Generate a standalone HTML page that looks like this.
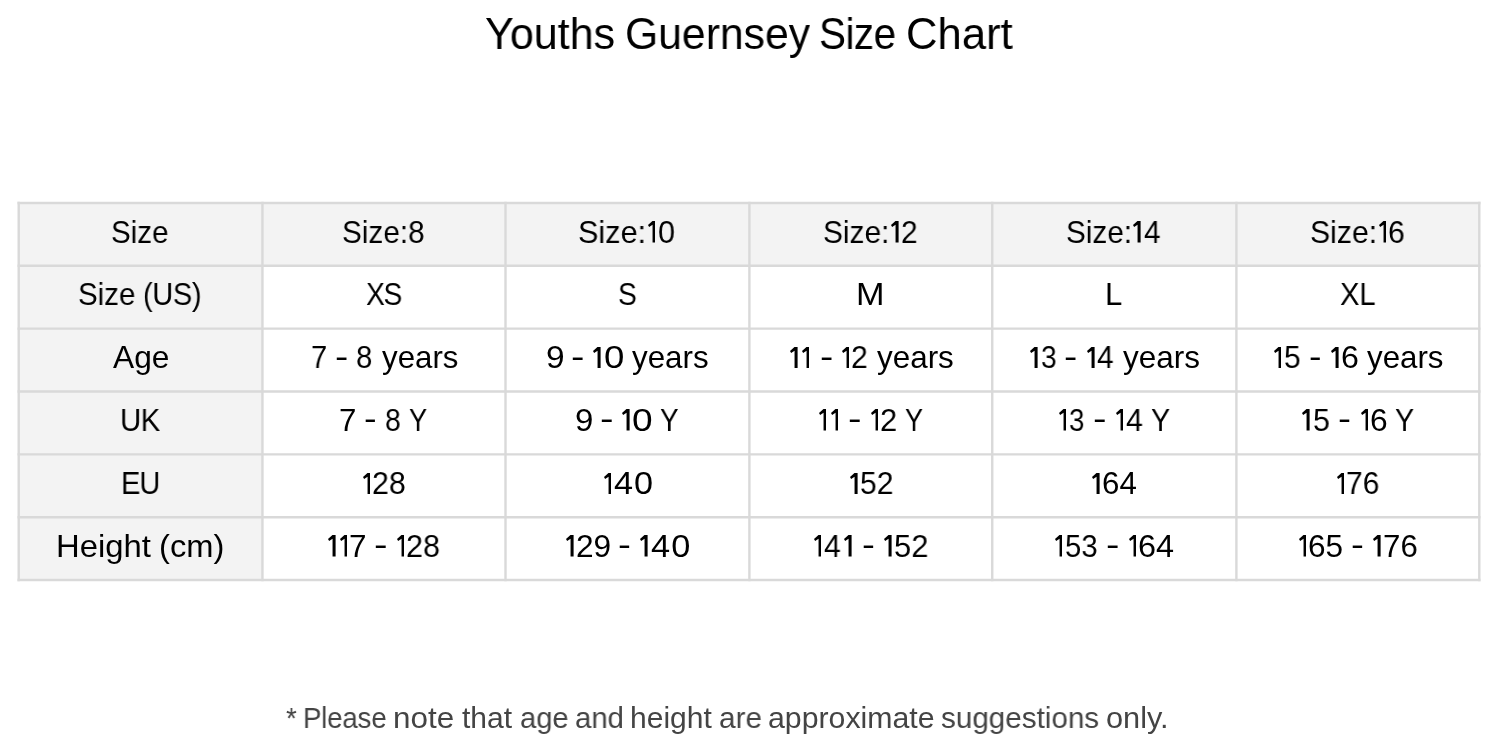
<!DOCTYPE html>
<html><head><meta charset="utf-8"><title>Youths Guernsey Size Chart</title>
<style>
html,body{margin:0;padding:0;background:#fff;width:1498px;height:752px;overflow:hidden}
body{position:relative;font-family:"Liberation Sans", sans-serif}
svg{position:absolute;left:0;top:0}
.one{position:absolute}
.one span{color:transparent;font-size:20px;line-height:1;position:absolute;left:0;top:0}
.t{position:absolute;line-height:1;white-space:pre;transform-origin:0 0;will-change:transform;-webkit-font-smoothing:antialiased}
</style></head><body>
<svg width="1498" height="752" viewBox="0 0 1498 752">
<rect x="18.7" y="203.0" width="1460.6" height="62.80000000000001" fill="#f3f3f3"/>
<rect x="18.7" y="203.0" width="243.75" height="377.0" fill="#f3f3f3"/>
<line x1="18.7" y1="201.8" x2="18.7" y2="581.2" stroke="#d9d9d9" stroke-width="2.4"/>
<line x1="262.45" y1="201.8" x2="262.45" y2="581.2" stroke="#d9d9d9" stroke-width="2.4"/>
<line x1="505.5" y1="201.8" x2="505.5" y2="581.2" stroke="#d9d9d9" stroke-width="2.4"/>
<line x1="749.4" y1="201.8" x2="749.4" y2="581.2" stroke="#d9d9d9" stroke-width="2.4"/>
<line x1="992.25" y1="201.8" x2="992.25" y2="581.2" stroke="#d9d9d9" stroke-width="2.4"/>
<line x1="1236.4" y1="201.8" x2="1236.4" y2="581.2" stroke="#d9d9d9" stroke-width="2.4"/>
<line x1="1479.3" y1="201.8" x2="1479.3" y2="581.2" stroke="#d9d9d9" stroke-width="2.4"/>
<line x1="17.5" y1="203.0" x2="1480.5" y2="203.0" stroke="#d9d9d9" stroke-width="2.4"/>
<line x1="17.5" y1="265.8" x2="1480.5" y2="265.8" stroke="#d9d9d9" stroke-width="2.4"/>
<line x1="17.5" y1="328.6" x2="1480.5" y2="328.6" stroke="#d9d9d9" stroke-width="2.4"/>
<line x1="17.5" y1="391.45" x2="1480.5" y2="391.45" stroke="#d9d9d9" stroke-width="2.4"/>
<line x1="17.5" y1="454.35" x2="1480.5" y2="454.35" stroke="#d9d9d9" stroke-width="2.4"/>
<line x1="17.5" y1="517.2" x2="1480.5" y2="517.2" stroke="#d9d9d9" stroke-width="2.4"/>
<line x1="17.5" y1="580.0" x2="1480.5" y2="580.0" stroke="#d9d9d9" stroke-width="2.4"/>
</svg>
<div class="t" style="left:111.31px;top:216.50px;font-size:31.25px;color:#000;transform:scaleX(0.9448);letter-spacing:0.0px">Size</div>
<div class="t" style="left:342.20px;top:216.50px;font-size:31.25px;color:#000;transform:scaleX(0.9512);letter-spacing:0.0px">Size:8</div>
<div class="t" style="left:578.44px;top:216.50px;font-size:31.25px;color:#000;transform:scaleX(0.9800);letter-spacing:0.0px">Size:</div>
<div class="one" style="left:647.90px;top:221.00px;width:7.60px;height:21.50px"><svg width="100%" height="100%" viewBox="0 0 8 21.5" preserveAspectRatio="none" style="position:absolute;left:0;top:0"><polygon points="0,4.1 4.7,0 8,0 8,21.5 4.8,21.5 4.8,3.7 1.2,6.1" fill="#000"/></svg><span>1</span></div>
<div class="t" style="left:658.32px;top:216.50px;font-size:31.25px;color:#000;transform:scaleX(0.9800);letter-spacing:0.0px">0</div>
<div class="t" style="left:823.19px;top:216.50px;font-size:31.25px;color:#000;transform:scaleX(0.9557);letter-spacing:0.0px">Size:</div>
<div class="one" style="left:891.02px;top:221.00px;width:7.60px;height:21.50px"><svg width="100%" height="100%" viewBox="0 0 8 21.5" preserveAspectRatio="none" style="position:absolute;left:0;top:0"><polygon points="0,4.1 4.7,0 8,0 8,21.5 4.8,21.5 4.8,3.7 1.2,6.1" fill="#000"/></svg><span>1</span></div>
<div class="t" style="left:900.51px;top:216.50px;font-size:31.25px;color:#000;transform:scaleX(0.9557);letter-spacing:0.0px">2</div>
<div class="t" style="left:1065.90px;top:216.50px;font-size:31.25px;color:#000;transform:scaleX(0.9506);letter-spacing:0.0px">Size:</div>
<div class="one" style="left:1133.39px;top:221.00px;width:7.60px;height:21.50px"><svg width="100%" height="100%" viewBox="0 0 8 21.5" preserveAspectRatio="none" style="position:absolute;left:0;top:0"><polygon points="0,4.1 4.7,0 8,0 8,21.5 4.8,21.5 4.8,3.7 1.2,6.1" fill="#000"/></svg><span>1</span></div>
<div class="t" style="left:1143.84px;top:216.50px;font-size:31.25px;color:#000;transform:scaleX(0.9506);letter-spacing:0.0px">4</div>
<div class="t" style="left:1310.17px;top:216.50px;font-size:31.25px;color:#000;transform:scaleX(0.9658);letter-spacing:0.0px">Size:</div>
<div class="one" style="left:1378.68px;top:221.00px;width:7.60px;height:21.50px"><svg width="100%" height="100%" viewBox="0 0 8 21.5" preserveAspectRatio="none" style="position:absolute;left:0;top:0"><polygon points="0,4.1 4.7,0 8,0 8,21.5 4.8,21.5 4.8,3.7 1.2,6.1" fill="#000"/></svg><span>1</span></div>
<div class="t" style="left:1388.15px;top:216.50px;font-size:31.25px;color:#000;transform:scaleX(0.9658);letter-spacing:0.0px">6</div>
<div class="t" style="left:365.79px;top:279.40px;font-size:31.25px;color:#000;transform:scaleX(0.9053);letter-spacing:-1.5px">XS</div>
<div class="t" style="left:618.09px;top:279.40px;font-size:31.25px;color:#000;transform:scaleX(0.9059);letter-spacing:0.0px">S</div>
<div class="t" style="left:856.21px;top:279.40px;font-size:31.25px;color:#000;transform:scaleX(1.0952);letter-spacing:0.0px">M</div>
<div class="t" style="left:1104.92px;top:279.40px;font-size:31.25px;color:#000;transform:scaleX(0.9923);letter-spacing:0.0px">L</div>
<div class="t" style="left:1340.47px;top:279.40px;font-size:31.25px;color:#000;transform:scaleX(0.9333);letter-spacing:0.0px">XL</div>
<div class="t" style="left:113.20px;top:342.40px;font-size:31.25px;color:#000;transform:scaleX(1.0148);letter-spacing:0.0px">Age</div>
<div class="t" style="left:119.72px;top:404.80px;font-size:31.25px;color:#000;transform:scaleX(0.9400);letter-spacing:-0.57px">UK</div>
<div class="t" style="left:120.61px;top:468.00px;font-size:31.25px;color:#000;transform:scaleX(0.9297);letter-spacing:-1.01px">EU</div>
<div class="one" style="left:362.80px;top:472.50px;width:7.60px;height:21.50px"><svg width="100%" height="100%" viewBox="0 0 8 21.5" preserveAspectRatio="none" style="position:absolute;left:0;top:0"><polygon points="0,4.1 4.7,0 8,0 8,21.5 4.8,21.5 4.8,3.7 1.2,6.1" fill="#000"/></svg><span>1</span></div>
<div class="t" style="left:372.26px;top:468.00px;font-size:31.25px;color:#000;transform:scaleX(0.9688);letter-spacing:0.0px">28</div>
<div class="one" style="left:603.80px;top:472.50px;width:7.60px;height:21.50px"><svg width="100%" height="100%" viewBox="0 0 8 21.5" preserveAspectRatio="none" style="position:absolute;left:0;top:0"><polygon points="0,4.1 4.7,0 8,0 8,21.5 4.8,21.5 4.8,3.7 1.2,6.1" fill="#000"/></svg><span>1</span></div>
<div class="t" style="left:614.10px;top:468.00px;font-size:31.25px;color:#000;transform:scaleX(1.0970);letter-spacing:0.83px">40</div>
<div class="one" style="left:850.00px;top:472.50px;width:7.60px;height:21.50px"><svg width="100%" height="100%" viewBox="0 0 8 21.5" preserveAspectRatio="none" style="position:absolute;left:0;top:0"><polygon points="0,4.1 4.7,0 8,0 8,21.5 4.8,21.5 4.8,3.7 1.2,6.1" fill="#000"/></svg><span>1</span></div>
<div class="t" style="left:860.44px;top:468.00px;font-size:31.25px;color:#000;transform:scaleX(0.9594);letter-spacing:0.0px">52</div>
<div class="one" style="left:1092.30px;top:472.50px;width:7.60px;height:21.50px"><svg width="100%" height="100%" viewBox="0 0 8 21.5" preserveAspectRatio="none" style="position:absolute;left:0;top:0"><polygon points="0,4.1 4.7,0 8,0 8,21.5 4.8,21.5 4.8,3.7 1.2,6.1" fill="#000"/></svg><span>1</span></div>
<div class="t" style="left:1101.70px;top:468.00px;font-size:31.25px;color:#000;transform:scaleX(1.0000);letter-spacing:0.0px">64</div>
<div class="one" style="left:1336.70px;top:472.50px;width:7.60px;height:21.50px"><svg width="100%" height="100%" viewBox="0 0 8 21.5" preserveAspectRatio="none" style="position:absolute;left:0;top:0"><polygon points="0,4.1 4.7,0 8,0 8,21.5 4.8,21.5 4.8,3.7 1.2,6.1" fill="#000"/></svg><span>1</span></div>
<div class="t" style="left:1346.19px;top:468.00px;font-size:31.25px;color:#000;transform:scaleX(0.9562);letter-spacing:0.0px">76</div>
<div class="t" style="left:78.31px;top:279.40px;font-size:31.25px;color:#000;transform:scaleX(0.9431);letter-spacing:0.0px">Size</div>
<div class="t" style="left:143.45px;top:279.40px;font-size:31.25px;color:#000;transform:scaleX(0.9271);letter-spacing:-0.39px">(US)</div>
<div class="t" style="left:310.64px;top:342.40px;font-size:31.25px;color:#000;transform:scaleX(0.9286);letter-spacing:0.0px">7</div>
<div class="t" style="left:334.53px;top:340.80px;font-size:31.25px;color:#000;transform:scaleX(1.2750);letter-spacing:0.0px">-</div>
<div class="t" style="left:355.86px;top:342.40px;font-size:31.25px;color:#000;transform:scaleX(0.9400);letter-spacing:0.0px">8</div>
<div class="t" style="left:381.70px;top:342.40px;font-size:31.25px;color:#000;transform:scaleX(0.9987);letter-spacing:0.0px">years</div>
<div class="t" style="left:545.56px;top:342.40px;font-size:31.25px;color:#000;transform:scaleX(1.0714);letter-spacing:0.0px">9</div>
<div class="t" style="left:571.01px;top:340.80px;font-size:31.25px;color:#000;transform:scaleX(1.2875);letter-spacing:0.0px">-</div>
<div class="one" style="left:593.30px;top:346.90px;width:7.60px;height:21.50px"><svg width="100%" height="100%" viewBox="0 0 8 21.5" preserveAspectRatio="none" style="position:absolute;left:0;top:0"><polygon points="0,4.1 4.7,0 8,0 8,21.5 4.8,21.5 4.8,3.7 1.2,6.1" fill="#000"/></svg><span>1</span></div>
<div class="t" style="left:603.53px;top:342.40px;font-size:31.25px;color:#000;transform:scaleX(1.1733);letter-spacing:0.0px">0</div>
<div class="t" style="left:632.20px;top:342.40px;font-size:31.25px;color:#000;transform:scaleX(1.0027);letter-spacing:0.0px">years</div>
<div class="one" style="left:790.10px;top:346.90px;width:7.60px;height:21.50px"><svg width="100%" height="100%" viewBox="0 0 8 21.5" preserveAspectRatio="none" style="position:absolute;left:0;top:0"><polygon points="0,4.1 4.7,0 8,0 8,21.5 4.8,21.5 4.8,3.7 1.2,6.1" fill="#000"/></svg><span>1</span></div>
<div class="one" style="left:801.80px;top:346.90px;width:7.60px;height:21.50px"><svg width="100%" height="100%" viewBox="0 0 8 21.5" preserveAspectRatio="none" style="position:absolute;left:0;top:0"><polygon points="0,4.1 4.7,0 8,0 8,21.5 4.8,21.5 4.8,3.7 1.2,6.1" fill="#000"/></svg><span>1</span></div>
<div class="t" style="left:819.52px;top:340.80px;font-size:31.25px;color:#000;transform:scaleX(1.2750);letter-spacing:0.0px">-</div>
<div class="one" style="left:841.80px;top:346.90px;width:7.60px;height:21.50px"><svg width="100%" height="100%" viewBox="0 0 8 21.5" preserveAspectRatio="none" style="position:absolute;left:0;top:0"><polygon points="0,4.1 4.7,0 8,0 8,21.5 4.8,21.5 4.8,3.7 1.2,6.1" fill="#000"/></svg><span>1</span></div>
<div class="t" style="left:851.27px;top:342.40px;font-size:31.25px;color:#000;transform:scaleX(0.9643);letter-spacing:0.0px">2</div>
<div class="t" style="left:876.70px;top:342.40px;font-size:31.25px;color:#000;transform:scaleX(1.0053);letter-spacing:0.0px">years</div>
<div class="one" style="left:1030.30px;top:346.90px;width:7.60px;height:21.50px"><svg width="100%" height="100%" viewBox="0 0 8 21.5" preserveAspectRatio="none" style="position:absolute;left:0;top:0"><polygon points="0,4.1 4.7,0 8,0 8,21.5 4.8,21.5 4.8,3.7 1.2,6.1" fill="#000"/></svg><span>1</span></div>
<div class="t" style="left:1040.80px;top:342.40px;font-size:31.25px;color:#000;transform:scaleX(0.9000);letter-spacing:0.0px">3</div>
<div class="t" style="left:1064.22px;top:340.80px;font-size:31.25px;color:#000;transform:scaleX(1.2750);letter-spacing:0.0px">-</div>
<div class="one" style="left:1087.00px;top:346.90px;width:7.60px;height:21.50px"><svg width="100%" height="100%" viewBox="0 0 8 21.5" preserveAspectRatio="none" style="position:absolute;left:0;top:0"><polygon points="0,4.1 4.7,0 8,0 8,21.5 4.8,21.5 4.8,3.7 1.2,6.1" fill="#000"/></svg><span>1</span></div>
<div class="t" style="left:1097.44px;top:342.40px;font-size:31.25px;color:#000;transform:scaleX(0.9562);letter-spacing:0.0px">4</div>
<div class="t" style="left:1123.30px;top:342.40px;font-size:31.25px;color:#000;transform:scaleX(1.0067);letter-spacing:0.0px">years</div>
<div class="one" style="left:1273.60px;top:346.90px;width:7.60px;height:21.50px"><svg width="100%" height="100%" viewBox="0 0 8 21.5" preserveAspectRatio="none" style="position:absolute;left:0;top:0"><polygon points="0,4.1 4.7,0 8,0 8,21.5 4.8,21.5 4.8,3.7 1.2,6.1" fill="#000"/></svg><span>1</span></div>
<div class="t" style="left:1284.04px;top:342.40px;font-size:31.25px;color:#000;transform:scaleX(0.9600);letter-spacing:0.0px">5</div>
<div class="t" style="left:1309.10px;top:340.80px;font-size:31.25px;color:#000;transform:scaleX(1.2000);letter-spacing:0.0px">-</div>
<div class="one" style="left:1331.30px;top:346.90px;width:7.60px;height:21.50px"><svg width="100%" height="100%" viewBox="0 0 8 21.5" preserveAspectRatio="none" style="position:absolute;left:0;top:0"><polygon points="0,4.1 4.7,0 8,0 8,21.5 4.8,21.5 4.8,3.7 1.2,6.1" fill="#000"/></svg><span>1</span></div>
<div class="t" style="left:1340.64px;top:342.40px;font-size:31.25px;color:#000;transform:scaleX(1.0286);letter-spacing:0.0px">6</div>
<div class="t" style="left:1367.40px;top:342.40px;font-size:31.25px;color:#000;transform:scaleX(1.0013);letter-spacing:0.0px">years</div>
<div class="t" style="left:339.00px;top:404.80px;font-size:31.25px;color:#000;transform:scaleX(1.0000);letter-spacing:0.0px">7</div>
<div class="t" style="left:363.89px;top:403.20px;font-size:31.25px;color:#000;transform:scaleX(1.2125);letter-spacing:0.0px">-</div>
<div class="t" style="left:385.29px;top:404.80px;font-size:31.25px;color:#000;transform:scaleX(0.9067);letter-spacing:0.0px">8</div>
<div class="t" style="left:409.13px;top:404.80px;font-size:31.25px;color:#000;transform:scaleX(0.8684);letter-spacing:0.0px">Y</div>
<div class="t" style="left:574.69px;top:404.80px;font-size:31.25px;color:#000;transform:scaleX(1.0571);letter-spacing:0.0px">9</div>
<div class="t" style="left:600.00px;top:403.20px;font-size:31.25px;color:#000;transform:scaleX(1.3000);letter-spacing:0.0px">-</div>
<div class="one" style="left:622.10px;top:409.30px;width:7.60px;height:21.50px"><svg width="100%" height="100%" viewBox="0 0 8 21.5" preserveAspectRatio="none" style="position:absolute;left:0;top:0"><polygon points="0,4.1 4.7,0 8,0 8,21.5 4.8,21.5 4.8,3.7 1.2,6.1" fill="#000"/></svg><span>1</span></div>
<div class="t" style="left:632.31px;top:404.80px;font-size:31.25px;color:#000;transform:scaleX(1.1867);letter-spacing:0.0px">0</div>
<div class="t" style="left:660.41px;top:404.80px;font-size:31.25px;color:#000;transform:scaleX(0.8895);letter-spacing:0.0px">Y</div>
<div class="one" style="left:818.80px;top:409.30px;width:7.60px;height:21.50px"><svg width="100%" height="100%" viewBox="0 0 8 21.5" preserveAspectRatio="none" style="position:absolute;left:0;top:0"><polygon points="0,4.1 4.7,0 8,0 8,21.5 4.8,21.5 4.8,3.7 1.2,6.1" fill="#000"/></svg><span>1</span></div>
<div class="one" style="left:830.80px;top:409.30px;width:7.60px;height:21.50px"><svg width="100%" height="100%" viewBox="0 0 8 21.5" preserveAspectRatio="none" style="position:absolute;left:0;top:0"><polygon points="0,4.1 4.7,0 8,0 8,21.5 4.8,21.5 4.8,3.7 1.2,6.1" fill="#000"/></svg><span>1</span></div>
<div class="t" style="left:848.00px;top:403.20px;font-size:31.25px;color:#000;transform:scaleX(1.3000);letter-spacing:0.0px">-</div>
<div class="one" style="left:870.90px;top:409.30px;width:7.60px;height:21.50px"><svg width="100%" height="100%" viewBox="0 0 8 21.5" preserveAspectRatio="none" style="position:absolute;left:0;top:0"><polygon points="0,4.1 4.7,0 8,0 8,21.5 4.8,21.5 4.8,3.7 1.2,6.1" fill="#000"/></svg><span>1</span></div>
<div class="t" style="left:880.33px;top:404.80px;font-size:31.25px;color:#000;transform:scaleX(0.9857);letter-spacing:0.0px">2</div>
<div class="t" style="left:904.94px;top:404.80px;font-size:31.25px;color:#000;transform:scaleX(0.8632);letter-spacing:0.0px">Y</div>
<div class="one" style="left:1058.70px;top:409.30px;width:7.60px;height:21.50px"><svg width="100%" height="100%" viewBox="0 0 8 21.5" preserveAspectRatio="none" style="position:absolute;left:0;top:0"><polygon points="0,4.1 4.7,0 8,0 8,21.5 4.8,21.5 4.8,3.7 1.2,6.1" fill="#000"/></svg><span>1</span></div>
<div class="t" style="left:1069.21px;top:404.80px;font-size:31.25px;color:#000;transform:scaleX(0.8867);letter-spacing:0.0px">3</div>
<div class="t" style="left:1093.00px;top:403.20px;font-size:31.25px;color:#000;transform:scaleX(1.3000);letter-spacing:0.0px">-</div>
<div class="one" style="left:1115.50px;top:409.30px;width:7.60px;height:21.50px"><svg width="100%" height="100%" viewBox="0 0 8 21.5" preserveAspectRatio="none" style="position:absolute;left:0;top:0"><polygon points="0,4.1 4.7,0 8,0 8,21.5 4.8,21.5 4.8,3.7 1.2,6.1" fill="#000"/></svg><span>1</span></div>
<div class="t" style="left:1125.93px;top:404.80px;font-size:31.25px;color:#000;transform:scaleX(0.9688);letter-spacing:0.0px">4</div>
<div class="t" style="left:1151.08px;top:404.80px;font-size:31.25px;color:#000;transform:scaleX(0.9158);letter-spacing:0.0px">Y</div>
<div class="one" style="left:1302.40px;top:409.30px;width:7.60px;height:21.50px"><svg width="100%" height="100%" viewBox="0 0 8 21.5" preserveAspectRatio="none" style="position:absolute;left:0;top:0"><polygon points="0,4.1 4.7,0 8,0 8,21.5 4.8,21.5 4.8,3.7 1.2,6.1" fill="#000"/></svg><span>1</span></div>
<div class="t" style="left:1312.83px;top:404.80px;font-size:31.25px;color:#000;transform:scaleX(0.9733);letter-spacing:0.0px">5</div>
<div class="t" style="left:1338.05px;top:403.20px;font-size:31.25px;color:#000;transform:scaleX(1.2500);letter-spacing:0.0px">-</div>
<div class="one" style="left:1360.50px;top:409.30px;width:7.60px;height:21.50px"><svg width="100%" height="100%" viewBox="0 0 8 21.5" preserveAspectRatio="none" style="position:absolute;left:0;top:0"><polygon points="0,4.1 4.7,0 8,0 8,21.5 4.8,21.5 4.8,3.7 1.2,6.1" fill="#000"/></svg><span>1</span></div>
<div class="t" style="left:1369.87px;top:404.80px;font-size:31.25px;color:#000;transform:scaleX(1.0143);letter-spacing:0.0px">6</div>
<div class="t" style="left:1394.78px;top:404.80px;font-size:31.25px;color:#000;transform:scaleX(0.9158);letter-spacing:0.0px">Y</div>
<div class="t" style="left:56.25px;top:530.90px;font-size:31.25px;color:#000;transform:scaleX(1.0506);letter-spacing:0.0px">Height</div>
<div class="t" style="left:158.61px;top:530.90px;font-size:31.25px;color:#000;transform:scaleX(1.0458);letter-spacing:0.0px">(cm)</div>
<div class="one" style="left:328.20px;top:535.40px;width:7.60px;height:21.50px"><svg width="100%" height="100%" viewBox="0 0 8 21.5" preserveAspectRatio="none" style="position:absolute;left:0;top:0"><polygon points="0,4.1 4.7,0 8,0 8,21.5 4.8,21.5 4.8,3.7 1.2,6.1" fill="#000"/></svg><span>1</span></div>
<div class="one" style="left:339.60px;top:535.40px;width:7.60px;height:21.50px"><svg width="100%" height="100%" viewBox="0 0 8 21.5" preserveAspectRatio="none" style="position:absolute;left:0;top:0"><polygon points="0,4.1 4.7,0 8,0 8,21.5 4.8,21.5 4.8,3.7 1.2,6.1" fill="#000"/></svg><span>1</span></div>
<div class="t" style="left:348.99px;top:530.90px;font-size:31.25px;color:#000;transform:scaleX(1.0071);letter-spacing:0.0px">7</div>
<div class="t" style="left:374.30px;top:529.30px;font-size:31.25px;color:#000;transform:scaleX(1.3000);letter-spacing:0.0px">-</div>
<div class="one" style="left:396.80px;top:535.40px;width:7.60px;height:21.50px"><svg width="100%" height="100%" viewBox="0 0 8 21.5" preserveAspectRatio="none" style="position:absolute;left:0;top:0"><polygon points="0,4.1 4.7,0 8,0 8,21.5 4.8,21.5 4.8,3.7 1.2,6.1" fill="#000"/></svg><span>1</span></div>
<div class="t" style="left:406.25px;top:530.90px;font-size:31.25px;color:#000;transform:scaleX(0.9750);letter-spacing:0.0px">28</div>
<div class="one" style="left:566.30px;top:535.40px;width:7.60px;height:21.50px"><svg width="100%" height="100%" viewBox="0 0 8 21.5" preserveAspectRatio="none" style="position:absolute;left:0;top:0"><polygon points="0,4.1 4.7,0 8,0 8,21.5 4.8,21.5 4.8,3.7 1.2,6.1" fill="#000"/></svg><span>1</span></div>
<div class="t" style="left:575.67px;top:530.90px;font-size:31.25px;color:#000;transform:scaleX(1.0129);letter-spacing:0.0px">29</div>
<div class="t" style="left:618.26px;top:529.30px;font-size:31.25px;color:#000;transform:scaleX(1.2375);letter-spacing:0.0px">-</div>
<div class="one" style="left:640.20px;top:535.40px;width:7.60px;height:21.50px"><svg width="100%" height="100%" viewBox="0 0 8 21.5" preserveAspectRatio="none" style="position:absolute;left:0;top:0"><polygon points="0,4.1 4.7,0 8,0 8,21.5 4.8,21.5 4.8,3.7 1.2,6.1" fill="#000"/></svg><span>1</span></div>
<div class="t" style="left:650.50px;top:530.90px;font-size:31.25px;color:#000;transform:scaleX(1.1000);letter-spacing:0.93px">40</div>
<div class="one" style="left:813.70px;top:535.40px;width:7.60px;height:21.50px"><svg width="100%" height="100%" viewBox="0 0 8 21.5" preserveAspectRatio="none" style="position:absolute;left:0;top:0"><polygon points="0,4.1 4.7,0 8,0 8,21.5 4.8,21.5 4.8,3.7 1.2,6.1" fill="#000"/></svg><span>1</span></div>
<div class="t" style="left:824.14px;top:530.90px;font-size:31.25px;color:#000;transform:scaleX(0.9625);letter-spacing:0.0px">4</div>
<div class="one" style="left:844.30px;top:535.40px;width:7.60px;height:21.50px"><svg width="100%" height="100%" viewBox="0 0 8 21.5" preserveAspectRatio="none" style="position:absolute;left:0;top:0"><polygon points="0,4.1 4.7,0 8,0 8,21.5 4.8,21.5 4.8,3.7 1.2,6.1" fill="#000"/></svg><span>1</span></div>
<div class="t" style="left:861.96px;top:529.30px;font-size:31.25px;color:#000;transform:scaleX(1.2375);letter-spacing:0.0px">-</div>
<div class="one" style="left:884.00px;top:535.40px;width:7.60px;height:21.50px"><svg width="100%" height="100%" viewBox="0 0 8 21.5" preserveAspectRatio="none" style="position:absolute;left:0;top:0"><polygon points="0,4.1 4.7,0 8,0 8,21.5 4.8,21.5 4.8,3.7 1.2,6.1" fill="#000"/></svg><span>1</span></div>
<div class="t" style="left:894.41px;top:530.90px;font-size:31.25px;color:#000;transform:scaleX(0.9875);letter-spacing:0.0px">52</div>
<div class="one" style="left:1054.70px;top:535.40px;width:7.60px;height:21.50px"><svg width="100%" height="100%" viewBox="0 0 8 21.5" preserveAspectRatio="none" style="position:absolute;left:0;top:0"><polygon points="0,4.1 4.7,0 8,0 8,21.5 4.8,21.5 4.8,3.7 1.2,6.1" fill="#000"/></svg><span>1</span></div>
<div class="t" style="left:1065.16px;top:530.90px;font-size:31.25px;color:#000;transform:scaleX(0.9364);letter-spacing:0.0px">53</div>
<div class="t" style="left:1106.11px;top:529.30px;font-size:31.25px;color:#000;transform:scaleX(1.2875);letter-spacing:0.0px">-</div>
<div class="one" style="left:1128.50px;top:535.40px;width:7.60px;height:21.50px"><svg width="100%" height="100%" viewBox="0 0 8 21.5" preserveAspectRatio="none" style="position:absolute;left:0;top:0"><polygon points="0,4.1 4.7,0 8,0 8,21.5 4.8,21.5 4.8,3.7 1.2,6.1" fill="#000"/></svg><span>1</span></div>
<div class="t" style="left:1137.83px;top:530.90px;font-size:31.25px;color:#000;transform:scaleX(1.0375);letter-spacing:0.0px">64</div>
<div class="one" style="left:1298.60px;top:535.40px;width:7.60px;height:21.50px"><svg width="100%" height="100%" viewBox="0 0 8 21.5" preserveAspectRatio="none" style="position:absolute;left:0;top:0"><polygon points="0,4.1 4.7,0 8,0 8,21.5 4.8,21.5 4.8,3.7 1.2,6.1" fill="#000"/></svg><span>1</span></div>
<div class="t" style="left:1307.98px;top:530.90px;font-size:31.25px;color:#000;transform:scaleX(1.0094);letter-spacing:0.0px">65</div>
<div class="t" style="left:1351.36px;top:529.30px;font-size:31.25px;color:#000;transform:scaleX(1.2375);letter-spacing:0.0px">-</div>
<div class="one" style="left:1373.30px;top:535.40px;width:7.60px;height:21.50px"><svg width="100%" height="100%" viewBox="0 0 8 21.5" preserveAspectRatio="none" style="position:absolute;left:0;top:0"><polygon points="0,4.1 4.7,0 8,0 8,21.5 4.8,21.5 4.8,3.7 1.2,6.1" fill="#000"/></svg><span>1</span></div>
<div class="t" style="left:1382.71px;top:530.90px;font-size:31.25px;color:#000;transform:scaleX(0.9969);letter-spacing:0.0px">76</div>
<div class="t" style="left:484.62px;top:11.70px;font-size:43.75px;color:#000;transform:scaleX(0.9846);letter-spacing:0.0px">Youths</div>
<div class="t" style="left:624.75px;top:11.70px;font-size:43.75px;color:#000;transform:scaleX(0.9759);letter-spacing:0.0px">Guernsey</div>
<div class="t" style="left:819.45px;top:11.70px;font-size:43.75px;color:#000;transform:scaleX(0.9225);letter-spacing:-0.55px">Size</div>
<div class="t" style="left:906.21px;top:11.70px;font-size:43.75px;color:#000;transform:scaleX(0.9971);letter-spacing:0.0px">Chart</div>
<div class="t" style="left:285.78px;top:702.70px;font-size:30.0px;color:#444;transform:scaleX(0.9200);letter-spacing:0.0px">*</div>
<div class="t" style="left:303.16px;top:702.70px;font-size:30.0px;color:#444;transform:scaleX(0.9205);letter-spacing:-0.18px">Please</div>
<div class="t" style="left:393.11px;top:702.70px;font-size:30.0px;color:#444;transform:scaleX(1.0473);letter-spacing:0.0px">note</div>
<div class="t" style="left:462.00px;top:702.70px;font-size:30.0px;color:#444;transform:scaleX(1.0000);letter-spacing:0.0px">that</div>
<div class="t" style="left:519.93px;top:702.70px;font-size:30.0px;color:#444;transform:scaleX(0.9729);letter-spacing:0.0px">age</div>
<div class="t" style="left:574.92px;top:702.70px;font-size:30.0px;color:#444;transform:scaleX(0.9787);letter-spacing:0.0px">and</div>
<div class="t" style="left:629.90px;top:702.70px;font-size:30.0px;color:#444;transform:scaleX(1.0013);letter-spacing:0.0px">height</div>
<div class="t" style="left:719.31px;top:702.70px;font-size:30.0px;color:#444;transform:scaleX(0.9902);letter-spacing:0.0px">are</div>
<div class="t" style="left:768.19px;top:702.70px;font-size:30.0px;color:#444;transform:scaleX(1.0092);letter-spacing:0.0px">approximate</div>
<div class="t" style="left:940.71px;top:702.70px;font-size:30.0px;color:#444;transform:scaleX(0.9880);letter-spacing:0.0px">suggestions</div>
<div class="t" style="left:1105.98px;top:702.70px;font-size:30.0px;color:#444;transform:scaleX(1.0246);letter-spacing:0.0px">only.</div>
</body></html>
